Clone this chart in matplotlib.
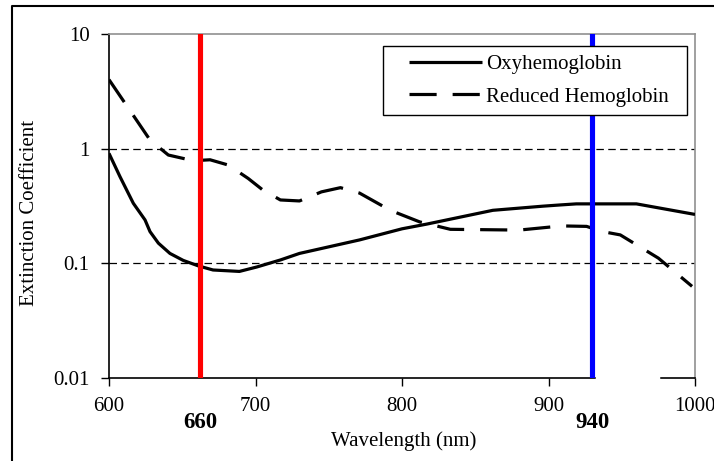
import numpy as np
import matplotlib
matplotlib.use('Agg')
import matplotlib.pyplot as plt
from matplotlib.lines import Line2D
from matplotlib.patches import Rectangle

plt.rcParams['font.family'] = ['Liberation Serif', 'DejaVu Serif']

# Oxyhemoglobin (solid)
oxy_wl = [600, 607.5, 616.6, 624.6, 628, 633.7, 641.6, 650.7, 661, 671, 689, 701, 717, 730,
          771, 800, 817, 862, 896, 908, 919, 960, 1000]
oxy_val = [0.91, 0.57, 0.334, 0.239, 0.189, 0.15, 0.122, 0.106, 0.095, 0.0875, 0.085, 0.093,
           0.107, 0.122, 0.16, 0.20, 0.22, 0.29, 0.315, 0.323, 0.33, 0.33, 0.267]

# Reduced hemoglobin (dashed)
red_wl = [600, 628, 640.5, 657.5, 669, 681.4, 695, 705, 717, 730, 745, 758, 771, 792, 812,
          833, 880, 909, 926, 937, 949, 975, 998]
red_val = [4.0, 1.19, 0.88, 0.785, 0.80, 0.72, 0.55, 0.436, 0.357, 0.35, 0.42, 0.457, 0.41,
           0.29, 0.23, 0.198, 0.195, 0.212, 0.21, 0.189, 0.177, 0.111, 0.063]

# LED wavelengths marked on the chart
marker_pos = [662, 930]
marker_labels = ['660', '940']
marker_colors = ['#ff0000', '#0000ff']

xticks = [600, 700, 800, 900, 1000]
yticks = [0.01, 0.1, 1, 10]
ytick_labels = ['0.01', '0.1', '1', '10']

fig = plt.figure(figsize=(7.14, 4.61), dpi=100)
ax = fig.add_axes([109/714, 83/461, 586/714, 344/461])

ax.set_yscale('log')
ax.set_xlim(600, 1000)
ax.set_ylim(0.01, 10)

# horizontal dashed grid at 1 and 0.1
for g in [0.1, 1]:
    ax.axhline(g, color='black', lw=0.9, dashes=(6, 3.5), zorder=1)

ax.plot(oxy_wl, oxy_val, color='black', lw=2.3, solid_capstyle='butt',
        label='Oxyhemoglobin', zorder=3)
ax.plot(red_wl, red_val, color='black', lw=2.3, dashes=(8.5, 5),
        label='Reduced Hemoglobin', zorder=3)

for pos, c in zip(marker_pos, marker_colors):
    ax.axvline(pos, color=c, lw=3.7, zorder=4)

for pos, lab in zip(marker_pos, marker_labels):
    ax.text(pos, -0.13, lab, transform=ax.get_xaxis_transform(), ha='center',
            va='center', fontsize=16.5, fontweight='bold')

ax.set_xticks(xticks)
ax.set_yticks(yticks)
ax.set_yticklabels(ytick_labels)
ax.minorticks_off()
ax.tick_params(direction='out', length=6, width=1, labelsize=15, pad=8,
               colors='black')

for s in ['top', 'right']:
    ax.spines[s].set_color('#909090')
    ax.spines[s].set_linewidth(1.2)
for s in ['left', 'bottom']:
    ax.spines[s].set_color('black')
    ax.spines[s].set_linewidth(1.2)

# small gap in the x axis to the right of the 940 line, as in the original
ax.axhline(0.01, xmin=(933 - 600) / 400, xmax=(975 - 600) / 400, color='white',
           lw=2.5, zorder=5, clip_on=False)

# legend box drawn separately so the padding matches the original
ax.add_patch(Rectangle((0.4676, 0.7645), 0.9863 - 0.4676, 0.9651 - 0.7645,
                       transform=ax.transAxes, facecolor='white', edgecolor='black',
                       lw=1.0, zorder=9))
leg = ax.legend(loc='upper left', bbox_to_anchor=(0.5119, 0.9404),
                borderaxespad=0, borderpad=0, fontsize=15, frameon=False,
                handlelength=3.5, handletextpad=0.2, labelspacing=0.62)
leg.set_zorder(10)

fig.text(404/714, 1 - 441/461, 'Wavelength (nm)', ha='center', va='center', fontsize=15)
fig.text(30/714, 1 - 213/461, 'Extinction Coefficient', ha='center', va='center',
         rotation=90, fontsize=15)

# outer frame of the picture
fig.add_artist(Line2D([12/714, 12/714, 1.0], [0.0, 1 - 6/461, 1 - 6/461],
                      transform=fig.transFigure, color='black', lw=1.5))

fig.savefig('out.png', dpi=100)
